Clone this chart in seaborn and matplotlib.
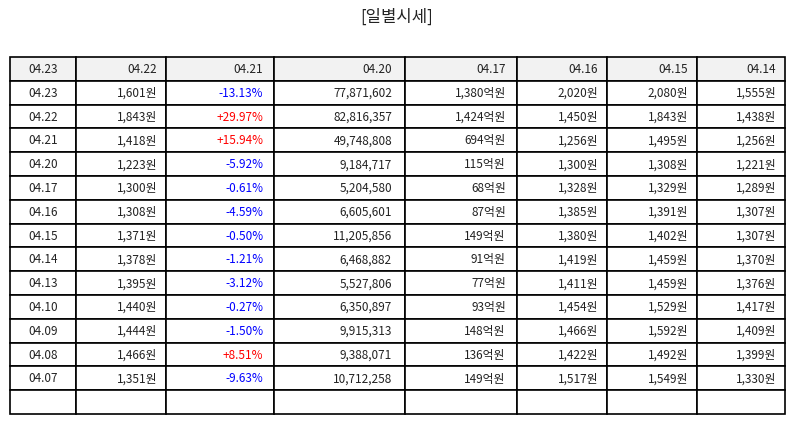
"""Daily price table (일별시세)"""
import matplotlib
matplotlib.use('Agg')
import matplotlib.pyplot as plt
import matplotlib.transforms as mtransforms
import seaborn as sns

# header labels (as shown on the chart)
header = ['04.23', '04.22', '04.21', '04.20', '04.17', '04.16', '04.15', '04.14']

dates = ['04.23', '04.22', '04.21', '04.20', '04.17', '04.16', '04.15',
         '04.14', '04.13', '04.10', '04.09', '04.08', '04.07']
close = [1601, 1843, 1418, 1223, 1300, 1308, 1371, 1378, 1395, 1440, 1444,
         1466, 1351]
change_pct = [-13.13, 29.97, 15.94, -5.92, -0.61, -4.59, -0.50, -1.21, -3.12,
              -0.27, -1.50, 8.51, -9.63]
volume = [77871602, 82816357, 49748808, 9184717, 5204580, 6605601, 11205856,
          6468882, 5527806, 6350897, 9915313, 9388071, 10712258]
amount_eok = [1380, 1424, 694, 115, 68, 87, 149, 91, 77, 93, 148, 136, 149]
open_price = [2020, 1450, 1256, 1300, 1328, 1385, 1380, 1419, 1411, 1454, 1466,
              1422, 1517]
high_price = [2080, 1843, 1495, 1308, 1329, 1391, 1402, 1459, 1459, 1529, 1592,
              1492, 1549]
low_price = [1555, 1438, 1256, 1221, 1289, 1307, 1307, 1370, 1376, 1417, 1409,
             1399, 1330]

sns.set_theme(style='white')
plt.rcParams['font.family'] = ['Noto Sans CJK KR', 'DejaVu Sans']

rows = []
for i in range(len(dates)):
    rows.append([
        dates[i],
        '{:,}원'.format(close[i]),
        '{:+.2f}%'.format(change_pct[i]),
        '{:,}'.format(volume[i]),
        '{:,}억원'.format(amount_eok[i]),
        '{:,}원'.format(open_price[i]),
        '{:,}원'.format(high_price[i]),
        '{:,}원'.format(low_price[i]),
    ])
rows.append([''] * len(header))

fig = plt.figure(figsize=(7.94, 4.25), dpi=100)
ax = fig.add_axes([0, 0, 1, 1])
ax.axis('off')

col_px = [66, 90, 108, 131, 112, 90, 90, 88]
total = sum(col_px)
tbl = ax.table(cellText=rows, colLabels=header,
               colWidths=[c / total for c in col_px],
               cellLoc='right', colLoc='right', loc='center',
               bbox=[10 / 794, 1 - 414 / 425, 775 / 794, 357 / 425])
tbl.auto_set_font_size(False)
tbl.set_fontsize(8.5)

# baseline + fixed shift keeps every row on the same line
shift = mtransforms.Affine2D().translate(0, -4.2)
for (r, c), cell in tbl.get_celld().items():
    cell.set_edgecolor('black')
    cell.set_linewidth(1.2)
    txt = cell.get_text()
    txt.set_color('#222222')
    txt.set_verticalalignment('baseline')
    txt.set_transform(shift)
    if c == 0:
        cell._loc = 'center'
        txt.set_horizontalalignment('center')
    if r == 0:
        cell.set_facecolor('#f2f2f2')
    if c == 2 and 1 <= r <= len(dates):
        txt.set_color('red' if change_pct[r - 1] > 0 else 'blue')

fig.text(0.5, 1 - 17 / 425, '[일별시세]', ha='center', va='center',
         fontsize=12, color='#222222')

fig.savefig('out.png', dpi=100)
